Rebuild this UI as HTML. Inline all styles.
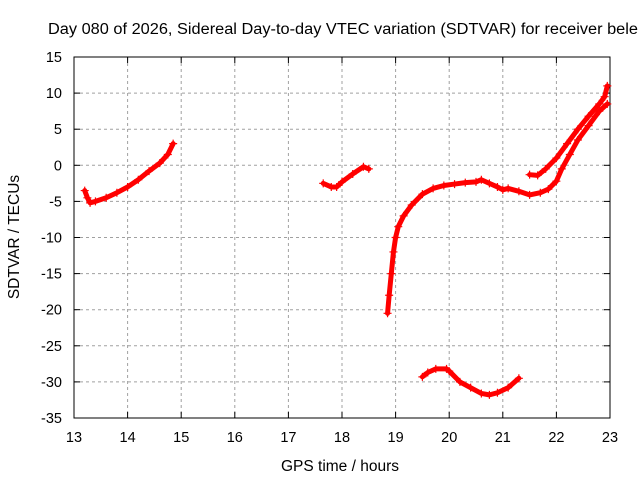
<!DOCTYPE html>
<html><head><meta charset="utf-8"><style>body{margin:0;background:#fff}svg{display:block;font-family:"Liberation Sans",Arial,sans-serif}</style></head>
<body>
<svg id="chart" width="640" height="480" viewBox="0 0 640 480" xmlns="http://www.w3.org/2000/svg">
<text x="48" y="34" font-size="15.5" textLength="590" lengthAdjust="spacingAndGlyphs">Day 080 of 2026, Sidereal Day-to-day VTEC variation (SDTVAR) for receiver bele</text>
<g id="grid"></g><g id="axes"></g><g id="data"></g>
<text x="340" y="471" font-size="15.5" text-anchor="middle">GPS time / hours</text>
<text transform="translate(19,237) rotate(-90)" font-size="15.5" text-anchor="middle">SDTVAR / TECUs</text>
</svg>
<script>
const xTicks=[13,14,15,16,17,18,19,20,21,22,23];
const yTicks=[15,10,5,0,-5,-10,-15,-20,-25,-30,-35];
const seg1H=[13.2,13.25,13.3,13.4,13.6,13.8,14.0,14.2,14.4,14.6,14.75,14.85];
const seg1V=[-3.5,-4.5,-5.2,-5,-4.5,-3.8,-3,-2,-0.8,0.3,1.5,3];
const seg2H=[17.65,17.8,17.9,18.0,18.2,18.4,18.5];
const seg2V=[-2.5,-3,-3,-2.3,-1.2,-0.2,-0.5];
const seg3H=[18.85,18.88,18.92,18.96,19.0,19.05,19.15,19.3,19.5,19.7,19.9,20.1,20.3,20.5,20.6,20.75,20.9,21.0,21.1,21.3,21.5,21.7,21.85,22.0,22.1,22.25,22.4,22.6,22.8,22.95];
const seg3V=[-20.5,-18,-15,-12,-10,-8.5,-7,-5.5,-4,-3.2,-2.8,-2.6,-2.4,-2.3,-2.0,-2.5,-3,-3.4,-3.2,-3.6,-4.1,-3.8,-3.3,-2.2,-0.5,1.5,3.5,5.5,7.5,8.5];
const seg4H=[21.5,21.65,21.8,22.0,22.2,22.4,22.6,22.8,22.9,22.95];
const seg4V=[-1.3,-1.4,-0.5,1,3,5,6.8,8.5,9.5,11];
const seg5H=[19.5,19.6,19.75,19.95,20.0,20.2,20.4,20.6,20.75,20.9,21.1,21.3];
const seg5V=[-29.3,-28.7,-28.2,-28.2,-28.5,-30,-30.8,-31.6,-31.8,-31.5,-30.8,-29.5];
const X0=74,X1=610,Y0=57,Y1=418;
const xs=h=>X0+(h-13)/10*(X1-X0);
const ys=v=>Y0+(15-v)/50*(Y1-Y0);
const NS="http://www.w3.org/2000/svg";
function mk(t,a,p){const e=document.createElementNS(NS,t);for(const k in a)e.setAttribute(k,a[k]);p.appendChild(e);return e;}
const grid=document.getElementById('grid'),axes=document.getElementById('axes'),data=document.getElementById('data');
xTicks.forEach(t=>{const x=xs(t);
 if(t>13&&t<23){const l=mk('line',{x1:x,x2:x,y1:Y0,y2:Y1,stroke:'#a0a0a0','stroke-dasharray':'3,3'},grid);
 }
 mk('line',{x1:x,x2:x,y1:Y1,y2:Y1-6,stroke:'#000'},axes);mk('line',{x1:x,x2:x,y1:Y0,y2:Y0+6,stroke:'#000'},axes);
 const tx=mk('text',{x:x,y:Y1+24,'font-size':14.5,'text-anchor':'middle'},axes);tx.textContent=t;
 });
yTicks.forEach(t=>{const y=ys(t);
 if(t<15&&t>-35){const l=mk('line',{x1:X0,x2:X1,y1:y,y2:y,stroke:'#a0a0a0','stroke-dasharray':'3,3'},grid);
 }
 mk('line',{x1:X0,x2:X0+6,y1:y,y2:y,stroke:'#000'},axes);mk('line',{x1:X1,x2:X1-6,y1:y,y2:y,stroke:'#000'},axes);
 const tx=mk('text',{x:X0-12,y:y+5,'font-size':14.5,'text-anchor':'end'},axes);tx.textContent=t;
 });
const fr=mk('rect',{x:X0,y:Y0,width:X1-X0,height:Y1-Y0,fill:'none',stroke:'#000'},axes);

[[seg1H,seg1V],[seg2H,seg2V],[seg3H,seg3V],[seg4H,seg4V],[seg5H,seg5V]].forEach(([H,V],i)=>{
 const pts=H.map((h,j)=>xs(h)+','+ys(V[j])).join(' ');
 const pl=mk('polyline',{points:pts,fill:'none',stroke:'#ff0000','stroke-width':5,'stroke-linejoin':'round','stroke-linecap':'round'},data);
 
 H.forEach((h,j)=>{const x=xs(h),y=ys(V[j]);
  const p=mk('path',{d:`M${x-4},${y}h8M${x},${y-4}v8`,stroke:'#ff0000','stroke-width':1.2},data);
  });
});
</script>
</body></html>
